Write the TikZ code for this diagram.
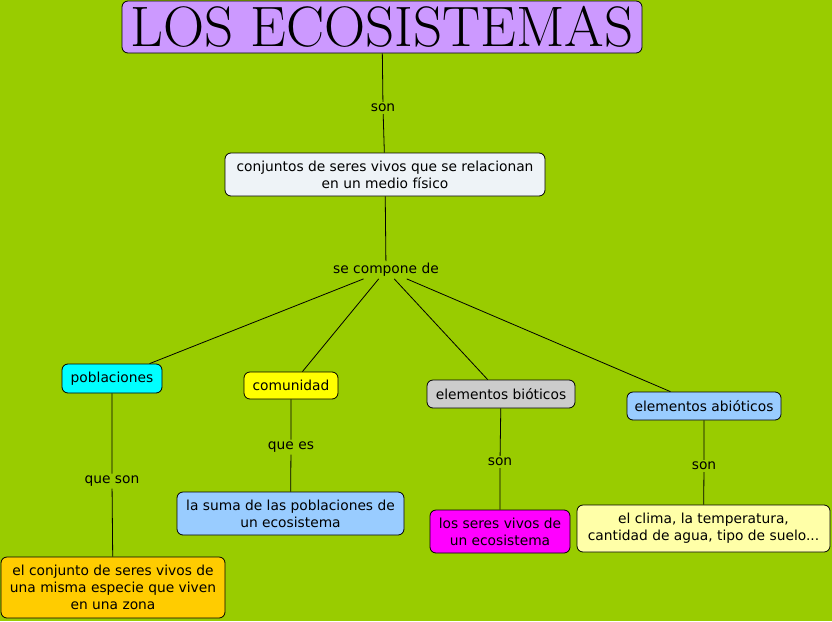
\documentclass[tikz,border=0pt]{standalone}
\usepackage{fontspec}
\setsansfont{DejaVu Sans}
\definecolor{fondo}{HTML}{99CC00}
\definecolor{lila}{HTML}{CC99FF}
\definecolor{gris}{HTML}{EEF3F7}
\definecolor{celeste}{HTML}{99CCFF}
\definecolor{naranja}{HTML}{FFCC00}
\definecolor{crema}{HTML}{FFFFA8}
\definecolor{turquesa}{HTML}{00FFFF}
\definecolor{fucsia}{HTML}{FF00FF}
\definecolor{amarillo}{HTML}{FFFF00}
\definecolor{plata}{HTML}{CCCCCC}
\usetikzlibrary{positioning}

\begin{document}
\begin{tikzpicture}[
    x=1pt, y=-1pt,
    concepto/.style={rectangle, rounded corners=6pt, draw=black, line width=0.8pt, align=center,
        font=\sffamily\fontsize{13.8}{17}\selectfont, inner xsep=4pt, inner ysep=2pt},
    enlace/.style={font=\sffamily\fontsize{13.8}{17}\selectfont, inner sep=2pt},
    linea/.style={draw=black, line width=0.8pt}
]

    % --- Fondo ---
    \fill[fondo] (0,0) rectangle (832,621);
    \useasboundingbox (0,0) rectangle (832,621);

    % --- Titulo ---
    \node[concepto, fill=lila, font=\fontsize{57}{57}\selectfont, minimum width=520pt, minimum height=52pt, inner ysep=0pt]
        (titulo) at (382,27) {LOS ECOSISTEMAS};
    \node[enlace] (son0) at (383,108) {son};
    \node[concepto, fill=gris, minimum width=320pt, minimum height=43pt] (conjuntos) at (385,174.5)
        {conjuntos de seres vivos que se relacionan\\en un medio físico};
    \node[enlace] (compone) at (386,270) {se compone de};

    % --- Conceptos ---
    \node[concepto, fill=turquesa, minimum width=100pt, minimum height=29pt] (poblaciones) at (112,378.5) {poblaciones};
    \node[concepto, fill=amarillo, minimum width=94pt, minimum height=27pt] (comunidad) at (291,385.5) {comunidad};
    \node[concepto, fill=plata, minimum width=148pt, minimum height=28pt] (bioticos) at (501,394) {elementos bióticos};
    \node[concepto, fill=celeste, minimum width=154pt, minimum height=28pt] (abioticos) at (704,406) {elementos abióticos};

    % --- Palabras de enlace ---
    \node[enlace] (queson) at (112,481) {que son};
    \node[enlace] (quees) at (291,447) {que es};
    \node[enlace] (son1) at (500,462) {son};
    \node[enlace] (son2) at (704,466) {son};

    % --- Definiciones ---
    \node[concepto, fill=naranja, minimum width=224pt, minimum height=61pt] (conjunto) at (113,587.5)
        {el conjunto de seres vivos de\\una misma especie que viven\\en una zona};
    \node[concepto, fill=celeste, minimum width=227pt, minimum height=43pt] (suma) at (290.5,513.5)
        {la suma de las poblaciones de\\un ecosistema};
    \node[concepto, fill=fucsia, minimum width=140pt, minimum height=43pt] (seres) at (500,531.5)
        {los seres vivos de\\un ecosistema};
    \node[concepto, fill=crema, minimum width=253pt, minimum height=47pt] (clima) at (703.5,528.5)
        {el clima, la temperatura,\\cantidad de agua, tipo de suelo...};

    % --- Conexiones ---
    \draw[linea] (titulo) -- (son0) -- (conjuntos);
    \draw[linea] (conjuntos) -- (compone);
    \draw[linea] (compone) -- (poblaciones);
    \draw[linea] (compone) -- (comunidad);
    \draw[linea] (compone) -- (bioticos);
    \draw[linea] (compone) -- (abioticos);
    \draw[linea] (poblaciones) -- (queson) -- (conjunto);
    \draw[linea] (comunidad) -- (quees) -- (suma);
    \draw[linea] (bioticos) -- (son1) -- (seres);
    \draw[linea] (abioticos) -- (son2) -- (clima);

\end{tikzpicture}
\end{document}
